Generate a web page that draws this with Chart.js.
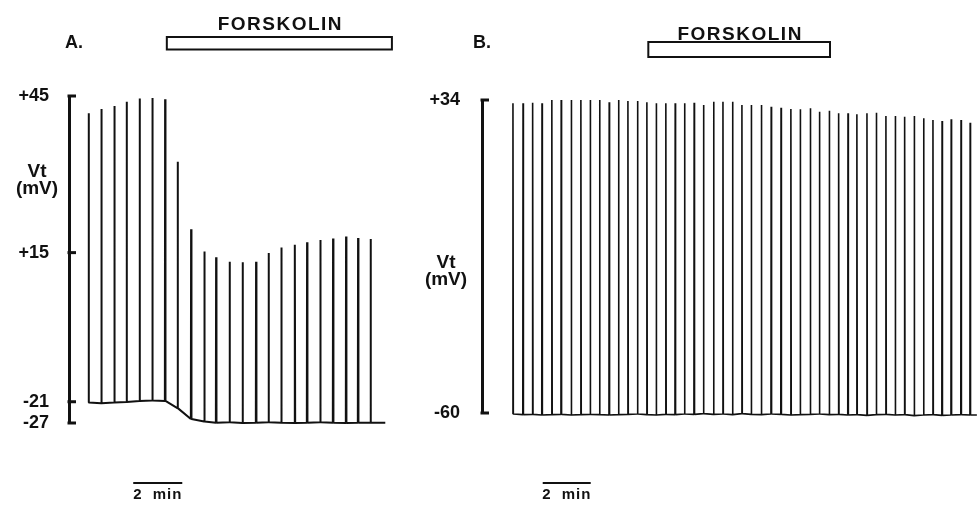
<!DOCTYPE html>
<html>
<head>
<meta charset="utf-8">
<script src="https://cdn.jsdelivr.net/npm/chart.js@4.4.0/dist/chart.umd.min.js"></script>
<style>
  html, body { margin: 0; padding: 0; background: #fff; }
  #wrap { position: relative; width: 977px; height: 509px; overflow: hidden; }
  canvas { position: absolute; top: 0; }
  #graficA { left: 0; }
  #graficB { left: 420px; }
</style>
</head>
<body>
<div id="wrap">
  <canvas id="graficA" width="420" height="509"></canvas>
  <canvas id="graficB" width="557" height="509"></canvas>
</div>
<script>
const ink = '#111'
const family = '"Liberation Sans", Arial, Helvetica, sans-serif'

// panel A : spike times (min), peak and foot voltage (mV)
const timeA = [0.79, 1.31, 1.84, 2.34, 2.87, 3.39, 3.91, 4.42, 4.97, 5.51,
  5.99, 6.54, 7.07, 7.62, 8.13, 8.65, 9.20, 9.70, 10.24, 10.76,
  11.29, 11.78, 12.29]
const peakA = [41.7, 42.5, 43.1, 43.9, 44.5, 44.6, 44.4, 32.4, 19.5, 15.2,
  13.9, 12.8, 12.7, 12.8, 14.9, 16.0, 16.5, 17.0, 17.4, 17.7,
  18.1, 17.8, 17.6]
const footA = [-21.2, -21.4, -21.2, -21.1, -20.8, -20.7, -20.8, -22.8, -25.9, -26.6,
  -26.9, -26.8, -27.0, -26.9, -26.8, -26.9, -27.0, -26.9, -26.8, -26.9,
  -27.0, -26.9, -26.9]
const endA = 12.9
const ticksA = [-27, -21, 15, 45]
const tickPosA = [0, 0.065, 0.521, 1]   // the bracket of A is not evenly spaced
const forskolinA = [3.99, 13.17]
const scaleBarA = [2.62, 4.62]

// panel B
const timeB = [1.28, 1.70, 2.10, 2.49, 2.90, 3.29, 3.71, 4.11, 4.50, 4.89,
  5.29, 5.68, 6.07, 6.47, 6.86, 7.25, 7.65, 8.04, 8.43, 8.83,
  9.22, 9.64, 10.03, 10.43, 10.82, 11.21, 11.63, 12.04, 12.45, 12.86,
  13.25, 13.67, 14.05, 14.46, 14.85, 15.24, 15.61, 16.03, 16.42, 16.82,
  17.21, 17.60, 18.00, 18.39, 18.78, 19.16, 19.54, 19.95, 20.33]
const peakB = [33.0, 33.0, 33.2, 33.0, 34.0, 34.0, 34.0, 34.0, 34.0, 34.0,
  33.3, 34.0, 33.7, 33.7, 33.3, 33.0, 33.0, 33.0, 33.0, 33.2,
  32.5, 33.5, 33.5, 33.5, 32.5, 32.5, 32.5, 32.0, 31.7, 31.3,
  31.2, 31.5, 30.5, 30.8, 30.0, 30.0, 29.7, 30.0, 30.2, 29.2,
  29.2, 29.0, 29.2, 28.5, 28.0, 27.7, 28.2, 28.0, 27.2]
const footB = [-60.3, -60.5, -60.4, -60.6, -60.5, -60.4, -60.6, -60.5, -60.4, -60.5,
  -60.6, -60.5, -60.4, -60.3, -60.5, -60.6, -60.4, -60.5, -60.3, -60.4,
  -60.2, -60.4, -60.3, -60.5, -60.2, -60.4, -60.5, -60.3, -60.4, -60.6,
  -60.5, -60.4, -60.3, -60.5, -60.4, -60.6, -60.5, -60.7, -60.5, -60.4,
  -60.6, -60.5, -60.8, -60.6, -60.5, -60.7, -60.6, -60.5, -60.6]
const endB = 20.62
const ticksB = [-60, 34]
const tickPosB = [0, 1]
const forskolinB = [6.93, 14.5]
const scaleBarB = [2.53, 4.53]

// y scale where the labelled values can sit at uneven places
class KnotScale extends Chart.LinearScale {
  getPixelForValue(value) {
    const k = this.knots
    if (!k || value === null || value === undefined) return super.getPixelForValue(value)
    let i = 0
    while (i < k.vals.length - 2 && value > k.vals[i + 1]) i++
    const d = k.pos[i] + (value - k.vals[i]) / (k.vals[i + 1] - k.vals[i]) * (k.pos[i + 1] - k.pos[i])
    return this.getPixelForDecimal(d)
  }
  getValueForPixel(pixel) {
    const k = this.knots
    if (!k) return super.getValueForPixel(pixel)
    const d = this.getDecimalForPixel(pixel)
    let i = 0
    while (i < k.pos.length - 2 && d > k.pos[i + 1]) i++
    return k.vals[i] + (d - k.pos[i]) / (k.pos[i + 1] - k.pos[i]) * (k.vals[i + 1] - k.vals[i])
  }
}
KnotScale.id = 'knots'
KnotScale.defaults = Chart.LinearScale.defaults
Chart.register(KnotScale)

function trace(times, peaks, feet, tEnd) {
  let pts = []
  times.forEach((t, i) => {
    pts.push({ x: t, y: feet[i] })
    pts.push({ x: t + 0.01, y: peaks[i] })
    pts.push({ x: t + 0.025, y: feet[i] })
  })
  pts.push({ x: tEnd, y: feet[feet.length - 1] })
  return pts
}

// bracket ends, panel letter, forskolin bar, time bar, Vt label
function decor(o) {
  return {
    id: 'decor',
    afterDraw(chart) {
      const { ctx, scales: { x, y } } = chart
      const ax = y.right
      ctx.save()
      ctx.strokeStyle = ink
      ctx.fillStyle = ink

      ctx.lineWidth = 3
      y.ticks.forEach((tk, i) => {
        const py = y.getPixelForTick(i)
        ctx.beginPath()
        ctx.moveTo(ax - 1.5, py)
        ctx.lineTo(ax + 7, py)
        ctx.stroke()
      })

      ctx.font = 'bold 18px ' + family
      ctx.textAlign = 'left'
      ctx.textBaseline = 'alphabetic'
      ctx.fillText(o.letter, o.letterX, o.letterY)

      // forskolin
      const f0 = x.getPixelForValue(o.forsk[0])
      const f1 = x.getPixelForValue(o.forsk[1])
      ctx.lineWidth = 2
      ctx.strokeRect(f0, o.forskTop, f1 - f0, o.forskBottom - o.forskTop)
      ctx.font = 'bold 19px ' + family
      ctx.letterSpacing = '1.5px'
      ctx.textAlign = 'center'
      ctx.fillText('FORSKOLIN', (f0 + f1) / 2 + 1, o.forskText)

      // Vt (mV)
      ctx.letterSpacing = '0px'
      ctx.font = 'bold 19px ' + family
      ctx.fillText('Vt', o.vtX, o.vtY)
      ctx.fillText('(mV)', o.vtX, o.vtY + 17)

      // 2 min
      const s0 = x.getPixelForValue(o.bar[0])
      const s1 = x.getPixelForValue(o.bar[1])
      ctx.lineWidth = 2
      ctx.beginPath()
      ctx.moveTo(s0, o.barY)
      ctx.lineTo(s1, o.barY)
      ctx.stroke()
      ctx.font = 'bold 15px ' + family
      ctx.letterSpacing = '1px'
      ctx.wordSpacing = '5px'
      ctx.fillText('2 min', (s0 + s1) / 2, o.barY + 16)
      ctx.restore()
    }
  }
}

function sign(v) {
  return (v > 0 ? '+' : '') + v
}

function makeChart(id, pts, lineW, yOpts, pad, xMax, axisW, labelPad, deco) {
  return new Chart(document.getElementById(id), {
    type: 'line',
    data: {
      datasets: [{
        data: pts,
        borderColor: ink,
        borderWidth: lineW,
        pointRadius: 0,
        tension: 0,
        clip: false,
        borderJoinStyle: 'bevel'
      }]
    },
    options: {
      responsive: false,
      animation: false,
      events: [],
      layout: { padding: pad },
      plugins: { legend: { display: false }, tooltip: { enabled: false } },
      scales: {
        x: { type: 'linear', display: false, min: 0, max: xMax },
        y: Object.assign({
          grid: { display: false },
          border: { display: true, color: ink, width: 3 },
          ticks: {
            autoSkip: false,
            padding: labelPad,
            color: ink,
            font: { family: family, size: 18, weight: 'bold' },
            callback: sign
          },
          afterFit: s => { s.width = axisW }
        }, yOpts)
      }
    },
    plugins: [decor(deco)]
  })
}

makeChart('graficA', trace(timeA, peakA, footA, endA), 2, {
  type: 'knots', min: -27, max: 45,
  afterBuildTicks: s => {
    s.ticks = ticksA.map(v => ({ value: v }))
    s.knots = { vals: ticksA, pos: tickPosA }
  }
}, { left: 0, right: 20, top: 96, bottom: 86 }, 13.5, 69, 12, {
  letter: 'A.', letterX: 65, letterY: 48,
  forsk: forskolinA, forskTop: 37, forskBottom: 49.5, forskText: 30,
  vtX: 37, vtY: 177,
  bar: scaleBarA, barY: 483
})

makeChart('graficB', trace(timeB, peakB, footB, endB), 1.6, {
  type: 'knots', min: -60, max: 34,
  afterBuildTicks: s => {
    s.ticks = ticksB.map(v => ({ value: v }))
    s.knots = { vals: ticksB, pos: tickPosB }
  }
}, { left: 0, right: 0, top: 100, bottom: 96 }, 20.625, 62, 14, {
  letter: 'B.', letterX: 53, letterY: 48,
  forsk: forskolinB, forskTop: 42, forskBottom: 57, forskText: 40,
  vtX: 26, vtY: 268,
  bar: scaleBarB, barY: 483
})
</script>
</body>
</html>
